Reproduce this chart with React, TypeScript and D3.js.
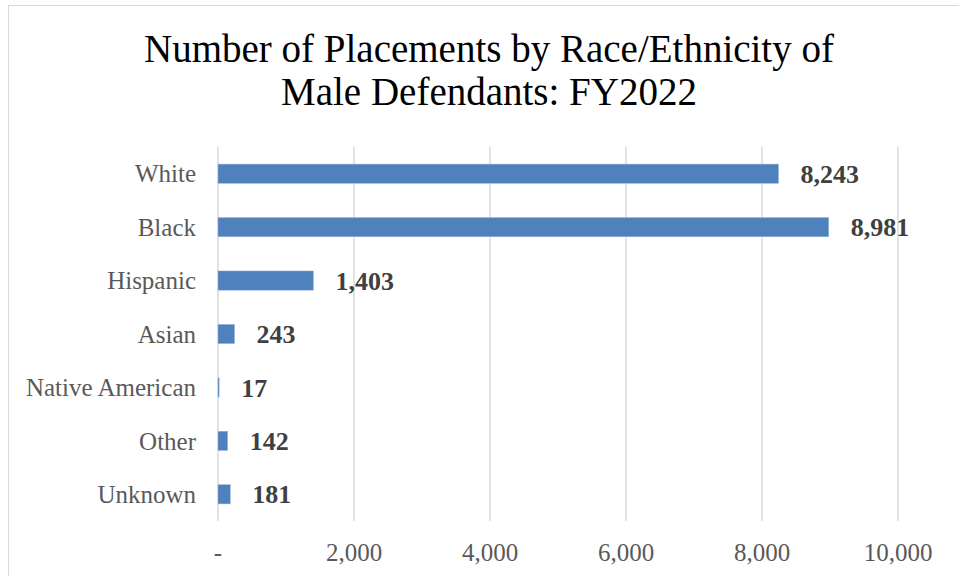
import React from "react";
import * as d3 from "d3";

const categories = ["White", "Black", "Hispanic", "Asian", "Native American", "Other", "Unknown"];
const values = [8243, 8981, 1403, 243, 17, 142, 181];
const xTicks = [0, 2000, 4000, 6000, 8000, 10000];
const titleLines = ["Number of Placements by Race/Ethnicity of", "Male Defendants: FY2022"];

const W = 959;
const H = 576;
const FONT = "'Liberation Serif', 'DejaVu Serif', serif";

export default function App() {
  const x = d3.scaleLinear().domain([0, 10000]).range([218, 898]);
  const y = d3.scaleBand<string>().domain(categories).range([147, 521]).paddingInner(0.64).paddingOuter(0.32);
  const fmt = d3.format(",");
  const tickFmt = (v: number) => (v === 0 ? "-" : fmt(v));

  return (
    <svg width={W} height={H} style={{ position: "absolute", left: 0, top: 0, background: "#fff" }}>
      <rect x={8.5} y={5.5} width={W + 10} height={H + 10} fill="#fff" stroke="#d9d9d9" strokeWidth={1} />
      <g fontFamily={FONT} fill="#000" fontSize={39} textAnchor="middle">
        {titleLines.map((t, i) => (
          <text key={i} x={489} y={62 + i * 43}>{t}</text>
        ))}
      </g>
      {xTicks.map((t) => (
        <line key={t} x1={x(t)} x2={x(t)} y1={147} y2={521} stroke="#d9d9d9" strokeWidth={1.5} />
      ))}
      {categories.map((c, i) => (
        <g key={c}>
          <rect x={x(0)} y={y(c)!} width={x(values[i]) - x(0)} height={y.bandwidth()} fill="#4f81bd" stroke="#9bb7db" strokeWidth={0.5} />
          <text x={196} y={y(c)! + y.bandwidth() / 2} dy="0.35em" textAnchor="end" fontFamily={FONT} fontSize={25} fill="#595959">{c}</text>
          <text x={x(values[i]) + 22} y={y(c)! + y.bandwidth() / 2} dy="0.35em" textAnchor="start" fontFamily={FONT} fontSize={26} fontWeight="bold" fill="#404040">{fmt(values[i])}</text>
        </g>
      ))}
      {xTicks.map((t) => (
        <text key={t} x={x(t)} y={552} dy="0.35em" textAnchor="middle" fontFamily={FONT} fontSize={25} fill="#595959">{tickFmt(t)}</text>
      ))}
    </svg>
  );
}
